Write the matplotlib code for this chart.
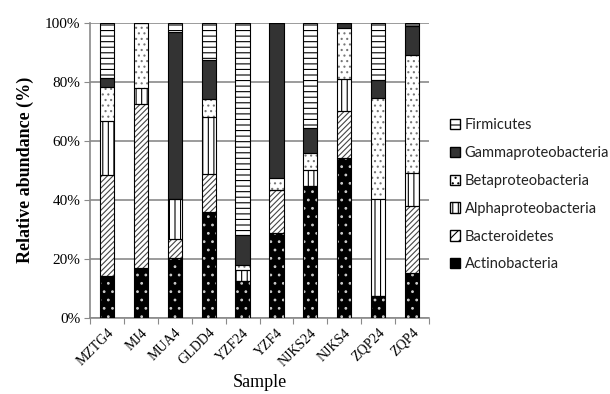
import numpy as np
import matplotlib
matplotlib.use("Agg")
import matplotlib.pyplot as plt
from matplotlib.patches import Patch

samples = ["MZTG4", "MJ4", "MUA4", "GLDD4", "YZF24", "YZF4", "NJKS24", "NJKS4", "ZQP24", "ZQP4"]
actino = [14.1, 17.0, 20.1, 35.8, 12.5, 28.6, 44.7, 54.2, 7.4, 15.1]
bactero = [34.4, 55.3, 6.6, 12.8, 0.0, 14.7, 0.0, 15.9, 0.0, 22.9]
alpha = [18.2, 5.7, 13.4, 19.3, 3.7, 0.0, 5.4, 10.8, 32.7, 11.0]
beta = [11.6, 22.0, 0.0, 6.2, 1.7, 4.0, 5.6, 17.4, 34.3, 40.0]
gamma = [3.1, 0.0, 56.6, 13.3, 10.1, 52.7, 8.5, 1.7, 6.2, 9.9]
firmi = [18.6, 0.0, 3.3, 12.6, 72.0, 0.0, 35.8, 0.0, 19.4, 1.1]

groups = ["Actinobacteria", "Bacteroidetes", "Alphaproteobacteria",
          "Betaproteobacteria", "Gammaproteobacteria", "Firmicutes"]
values = [actino, bactero, alpha, beta, gamma, firmi]
# face colour, hatch colour, hatch
styles = [("black", "#cccccc", ".."),
          ("white", "#444444", "//////"),
          ("white", "black", "|||"),
          ("white", "#777777", "..."),
          ("#333333", "#333333", ""),
          ("white", "black", "---")]

plt.rcParams["hatch.linewidth"] = 0.8

fig = plt.figure(figsize=(6.1, 3.94), dpi=100)
ax = fig.add_axes([90 / 610, (394 - 317.7) / 394, (429 - 90) / 610, 295 / 394])

x = np.arange(len(samples))
w = 0.42
bottom = np.zeros(len(samples))
for vals, (fc, hc, h) in zip(values, styles):
    vals = np.array(vals)
    ax.bar(x, vals, w, bottom=bottom, color=fc, edgecolor=hc, hatch=h, linewidth=0, zorder=3)
    ax.bar(x, vals, w, bottom=bottom, fill=False, edgecolor="black", linewidth=0.8, zorder=4)
    bottom += vals

ax.set_xlim(-0.5, len(samples) - 0.5)
ax.set_ylim(0, 100)
ax.set_yticks(range(0, 101, 20))
ax.set_yticklabels([f"{v}%" for v in range(0, 101, 20)], fontsize=11, family="Liberation Serif")
ax.yaxis.grid(True, color="#8a8a8a", linewidth=1.2, zorder=0)
ax.set_xticks(np.arange(len(samples) + 1) - 0.5)
ax.set_xticklabels([])
ax.set_xticks(x, minor=True)
ax.set_xticklabels(samples, minor=True, rotation=45, ha="right", rotation_mode="anchor",
                   fontsize=10, family="Liberation Serif")
ax.tick_params(axis="x", which="minor", length=0, pad=6)
ax.tick_params(axis="x", which="major", length=4, color="#8a8a8a", direction="out")
ax.tick_params(axis="y", length=4, color="#8a8a8a", pad=3)
for s in ["top", "right"]:
    ax.spines[s].set_visible(False)
for s in ["left", "bottom"]:
    ax.spines[s].set_color("#8a8a8a")
    ax.spines[s].set_linewidth(1.2)

ax.set_ylabel("Relative abundance (%)", fontsize=13, fontweight="bold", family="Liberation Serif", labelpad=8)
ax.set_xlabel("Sample", fontsize=13, family="Liberation Serif", labelpad=4)

handles = []
for (fc, hc, h) in styles:
    if fc == "black":
        handles.append(Patch(facecolor="black", edgecolor="black"))
    else:
        handles.append(Patch(facecolor=fc, edgecolor="black", hatch=h.replace("//////", "///")))
leg = fig.legend(handles[::-1], groups[::-1], loc="upper left", bbox_to_anchor=(437 / 610, 1 - 105 / 394),
                 frameon=False, handlelength=0.7, handleheight=0.7, handletextpad=0.3,
                 labelspacing=0.95, prop={"family": "Lato", "size": 10.5})
for t in leg.get_texts():
    t.set_color("#222222")

fig.savefig("out.png", dpi=100)
